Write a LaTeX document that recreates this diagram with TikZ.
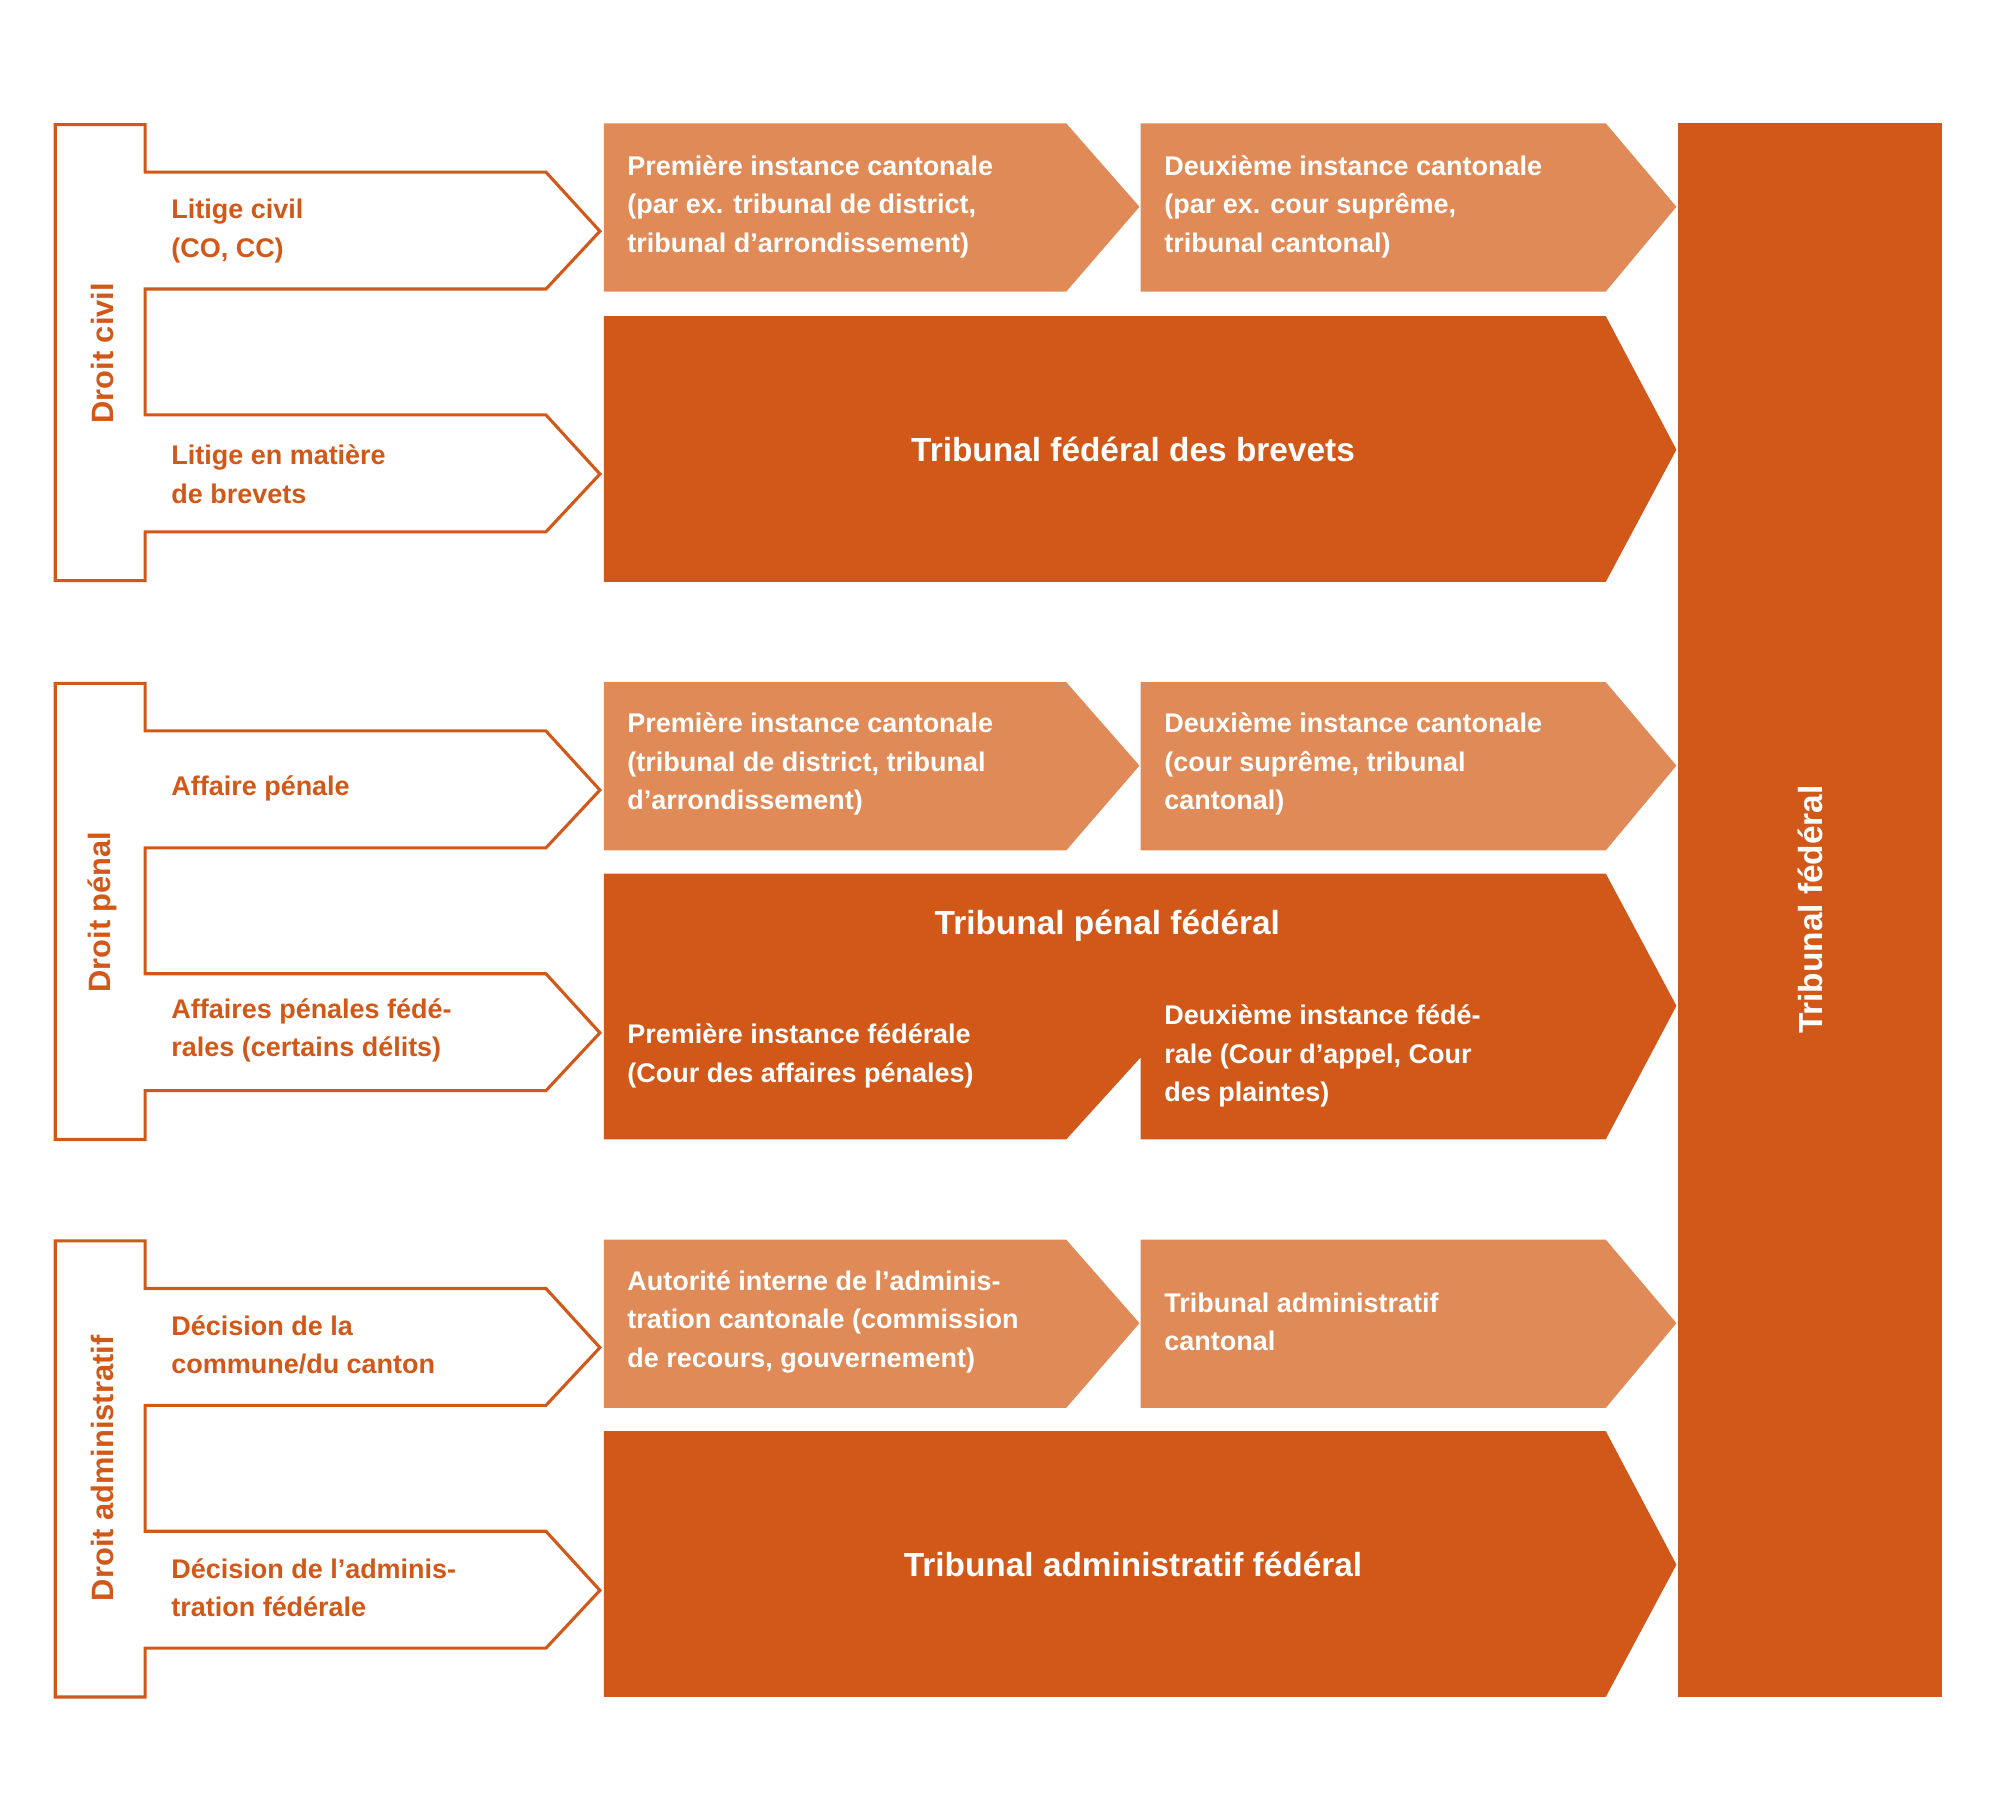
\documentclass[tikz,border=0pt]{standalone}
\usepackage{fontspec}
\setmainfont{Liberation Sans}
\definecolor{lt}{HTML}{E08A57}
\definecolor{dk}{HTML}{D15818}
\begin{document}
\begin{tikzpicture}[x={(0.5pt,0)},y={(0,-0.5pt)},
 sm/.style={font=\bfseries\fontsize{10.5}{15}\selectfont,align=left,anchor=west,inner sep=0},
 lab/.style={sm,text=dk},
 wt/.style={sm,text=white},
 big/.style={font=\bfseries\fontsize{13}{16}\selectfont,text=white,inner sep=0},
 vert/.style={font=\bfseries\fontsize{12}{14}\selectfont,text=dk,rotate=90,inner sep=0},
 brk/.style={draw=dk,line width=1.2pt,fill=white}]
\useasboundingbox (0,0) rectangle (1560,1408);
% brackets
\foreach \o/\n in {0/civ,435/pen,869/adm}{
 \begin{scope}[yshift=-\o*0.5pt]
 \draw[brk] (43,97)--(113,97)--(113,134)--(425,134)--(467,180)--(425,225)--(113,225)--(113,323)--(425,323)--(467,369)--(425,414)--(113,414)--(113,452)--(43,452)--cycle;
 \fill[lt] (470,96)--(830,96)--(887,161)--(830,227)--(470,227)--cycle;
 \fill[lt] (888,96)--(1250,96)--(1305,161)--(1250,227)--(888,227)--cycle;
 \end{scope}}
\fill[dk] (470,246)--(1250,246)--(1305,350)--(1250,453)--(470,453)--cycle;
\fill[dk] (470,680)--(1250,680)--(1305,783)--(1250,887)--(888,887)--(888,823)--(830,887)--(470,887)--cycle;
\fill[dk] (470,1114)--(1250,1114)--(1305,1218)--(1250,1321)--(470,1321)--cycle;
\fill[dk] (1306,96) rectangle (1512,1321);
% vertical labels
\node[vert] (v1) at (80,275) {Droit civil};
\node[vert] (v2) at (80,710) {Droit pénal};
\node[vert] (v3) at (80,1143) {Droit administratif};
\node[big,rotate=90] (tf) at (1409,708) {Tribunal fédéral};
% left labels
\node[lab] (l1) at (133,180) {Litige civil\\(CO, CC)};
\node[lab] (l2) at (133,369) {Litige en matière\\de brevets};
\node[lab] (l3) at (133,614) {Affaire pénale};
\node[lab] (l4) at (133,802) {Affaires pénales fédé-\\rales (certains délits)};
\node[lab] (l5) at (133,1047) {Décision de la\\commune/du canton};
\node[lab] (l6) at (133,1236) {Décision de l’adminis-\\tration fédérale};
% box texts
\node[wt] (b1) at (488,161) {Première instance cantonale\\(par ex. tribunal de district,\\tribunal d’arrondissement)};
\node[wt] (b2) at (906,161) {Deuxième instance cantonale\\(par ex. cour suprême,\\tribunal cantonal)};
\node[wt] (b3) at (488,595) {Première instance cantonale\\(tribunal de district, tribunal\\d’arrondissement)};
\node[wt] (b4) at (906,595) {Deuxième instance cantonale\\(cour suprême, tribunal\\cantonal)};
\node[wt] (b5) at (488,822) {Première instance fédérale\\(Cour des affaires pénales)};
\node[wt] (b6) at (906,822) {Deuxième instance fédé-\\rale (Cour d’appel, Cour\\des plaintes)};
\node[wt] (b7) at (488,1029) {Autorité interne de l’adminis-\\tration cantonale (commission\\de recours, gouvernement)};
\node[wt] (b8) at (906,1029) {Tribunal administratif\\cantonal};
\node[big] (g1) at (882,350) {Tribunal fédéral des brevets};
\node[big] (g2) at (862,721) {Tribunal pénal fédéral};
\node[big] (g3) at (882,1218) {Tribunal administratif fédéral};
\end{tikzpicture}
\end{document}
